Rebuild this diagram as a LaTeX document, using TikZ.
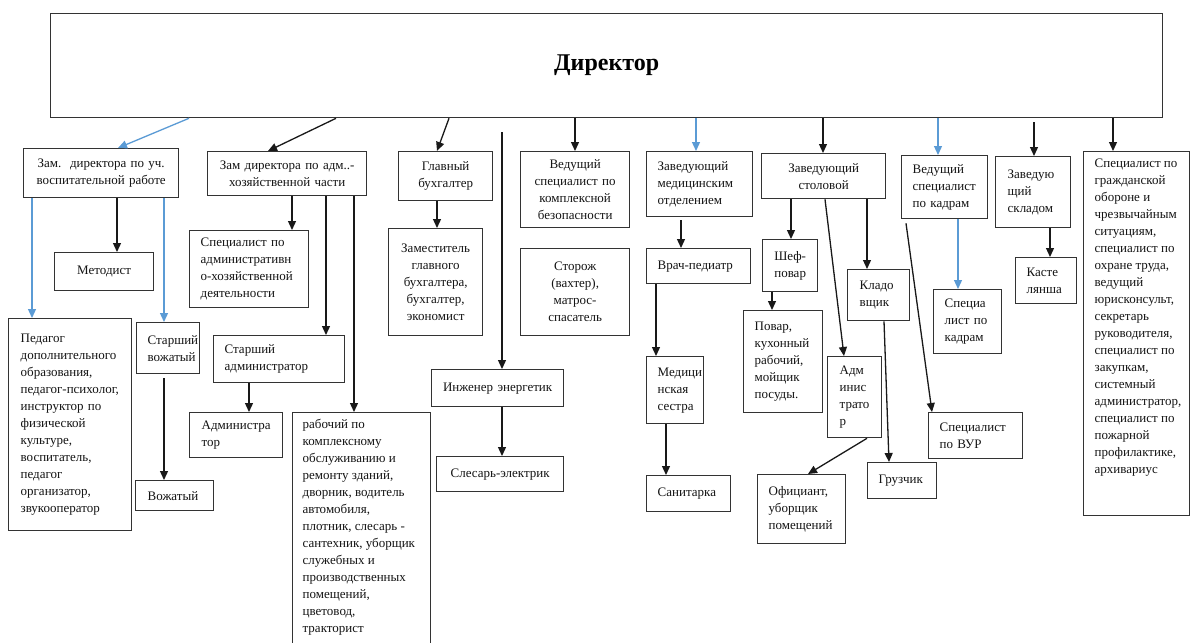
\documentclass[tikz,border=0pt]{standalone}
\usepackage{fontspec}
\setmainfont{Liberation Serif}
\usetikzlibrary{arrows.meta,calc}
\definecolor{lblue}{HTML}{5B9BD5}
\definecolor{ink}{HTML}{141414}
\newcommand{\bxfont}{\fontsize{13}{17}\selectfont}
\hyphenpenalty=10000
\exhyphenpenalty=10000
\begin{document}
\begin{tikzpicture}[x=1pt,y=-1pt,
  bx/.style={draw=black!80, line width=1.3pt, rectangle, anchor=north west, inner ysep=0pt, text=ink, font=\bxfont},
  cb/.style={align=center, inner xsep=2pt},
  lb/.style={align=left},
  arr/.style={draw=black!90, line width=1.3pt, -{Triangle[length=9pt,width=8pt]}},
  barr/.style={draw=lblue, line width=1.3pt, -{Triangle[length=9pt,width=8pt]}}
]
\fill[white] (0,0) rectangle (1190,642);
\useasboundingbox (0,0) rectangle (1190,642);

% top
\node[bx, minimum width=1112pt, minimum height=104pt, font=\fontsize{24}{28}\selectfont\bfseries, text=black] (dir) at (50,13) {Директор};

% left branch
\node[bx, cb, minimum width=155pt, minimum height=49pt, text width=151pt] (zu) at (23,148) {Зам.~~директора по уч.\\воспитательной работе};
\node[bx, cb, minimum width=159pt, minimum height=44pt, text width=155pt] (za) at (207,151) {Зам директора по адм..-\\хозяйственной части};
\node[bx, cb, minimum width=99pt, minimum height=38pt, text width=95pt] (met) at (54,252) {Методист};
\node[bx, lb, minimum width=119pt, minimum height=77pt, inner xsep=11pt, text width=97pt] (sah) at (189,230) {Специалист~по\\административн\\о-хозяйственной\\деятельности};
\node[bx, lb, minimum width=123pt, minimum height=212pt, inner xsep=12pt, text width=99pt] (ped) at (8,318) {Педагог\\дополнительного\\образования,\\педагог-психолог,\\инструктор~по\\физической\\культуре,\\воспитатель,\\педагог\\организатор,\\звукооператор};
\node[bx, lb, minimum width=63pt, minimum height=51pt, inner xsep=11pt, text width=41pt] (sv) at (136,322) {Старший\\вожатый};
\node[bx, lb, minimum width=78pt, minimum height=30pt, inner xsep=12pt, text width=54pt] (voz) at (135,480) {Вожатый};
\node[bx, lb, minimum width=131pt, minimum height=47pt, inner xsep=11pt, text width=109pt] (sa) at (213,335) {Старший\\администратор};
\node[bx, lb, minimum width=93pt, minimum height=45pt, inner xsep=12pt, text width=69pt] (adm) at (189,412) {Администра\\тор};
\node[bx, minimum width=138pt, minimum height=240pt, inner xsep=10pt, inner ysep=7pt] (rab) at (292,412) {\parbox[c][226pt][t]{118pt}{\raggedright\bxfont рабочий~по\\комплексному\\обслуживанию~и\\ремонту~зданий,\\дворник,~водитель\\автомобиля,\\плотник,~слесарь~-\\сантехник,~уборщик\\служебных~и\\производственных\\помещений,\\цветовод,\\тракторист}};

% middle
\node[bx, cb, minimum width=94pt, minimum height=49pt, text width=90pt] (gb) at (398,151) {Главный\\бухгалтер};
\node[bx, cb, minimum width=94pt, minimum height=107pt, text width=90pt] (zgb) at (388,228) {Заместитель\\главного\\бухгалтера,\\бухгалтер,\\экономист};
\node[bx, cb, minimum width=109pt, minimum height=76pt, text width=105pt] (vsk) at (520,151) {Ведущий\\специалист по\\комплексной\\безопасности};
\node[bx, cb, minimum width=109pt, minimum height=87pt, text width=105pt] (stor) at (520,248) {Сторож\\(вахтер),\\матрос-\\спасатель};
\node[bx, cb, minimum width=132pt, minimum height=37pt, text width=128pt] (ie) at (431,369) {Инженер энергетик};
\node[bx, cb, minimum width=127pt, minimum height=35pt, text width=123pt] (se) at (436,456) {Слесарь-электрик};

\node[bx, lb, minimum width=106pt, minimum height=65pt, inner xsep=11pt, text width=84pt] (zmo) at (646,151) {Заведующий\\медицинским\\отделением};
\node[bx, lb, minimum width=104pt, minimum height=35pt, inner xsep=11pt, text width=82pt] (vp) at (646,248) {Врач-педиатр};
\node[bx, lb, minimum width=57pt, minimum height=67pt, inner xsep=11pt, text width=35pt] (ms) at (646,356) {Медици\\нская\\сестра};
\node[bx, lb, minimum width=84pt, minimum height=36pt, inner xsep=11pt, text width=62pt] (san) at (646,475) {Санитарка};

% canteen
\node[bx, cb, minimum width=124pt, minimum height=45pt, text width=120pt] (zs) at (761,153) {Заведующий\\столовой};
\node[bx, cb, minimum width=55pt, minimum height=52pt, text width=51pt] (shef) at (762,239) {Шеф-\\повар};
\node[bx, lb, minimum width=79pt, minimum height=102pt, inner xsep=11pt, text width=57pt] (pov) at (743,310) {Повар,\\кухонный\\рабочий,\\мойщик\\посуды.};
\node[bx, lb, minimum width=62pt, minimum height=51pt, inner xsep=12pt, text width=38pt] (klad) at (847,269) {Кладо\\вщик};
\node[bx, lb, minimum width=54pt, minimum height=81pt, inner xsep=12pt, text width=30pt] (adms) at (827,356) {Адм\\инис\\трато\\р};
\node[bx, lb, minimum width=88pt, minimum height=69pt, inner xsep=11pt, text width=66pt] (ofic) at (757,474) {Официант,\\уборщик\\помещений};
\node[bx, lb, minimum width=69pt, minimum height=36pt, inner xsep=11pt, text width=47pt] (gruz) at (867,462) {Грузчик};

% personnel / store
\node[bx, lb, minimum width=86pt, minimum height=63pt, inner xsep=11pt, text width=64pt] (vkad) at (901,155) {Ведущий\\специалист\\по~кадрам};
\node[bx, lb, minimum width=68pt, minimum height=64pt, inner xsep=11pt, text width=46pt] (spk) at (933,289) {Специа\\лист~по\\кадрам};
\node[bx, lb, minimum width=94pt, minimum height=46pt, inner xsep=11pt, text width=72pt] (vur) at (928,412) {Специалист\\по~ВУР};
\node[bx, lb, minimum width=75pt, minimum height=71pt, inner xsep=12pt, text width=51pt] (zsk) at (995,156) {Заведую\\щий\\складом};
\node[bx, lb, minimum width=61pt, minimum height=46pt, inner xsep=11pt, text width=39pt] (kast) at (1015,257) {Касте\\лянша};
\node[bx, minimum width=106pt, minimum height=364pt, inner xsep=11pt, inner ysep=7pt] (big) at (1083,151) {\parbox[c][350pt][t]{84pt}{\raggedright\bxfont Специалист~по\\гражданской\\обороне~и\\чрезвычайным\\ситуациям,\\специалист~по\\охране~труда,\\ведущий\\юрисконсульт,\\секретарь\\руководителя,\\специалист~по\\закупкам,\\системный\\администратор,\\специалист~по\\пожарной\\профилактике,\\архивариус}};

% free ends
\coordinate (c5) at (1034,122);
\coordinate (c14) at (502,132);

% blue connectors
\draw[barr] ($(dir.south west)+(139,0)$) -- ($(zu.north west)+(95,0)$);
\draw[barr] ($(zu.south west)+(9,0)$) -- ($(ped.north west)+(24,0)$);
\draw[barr] ($(zu.south west)+(141,0)$) -- ($(sv.north west)+(28,0)$);
\draw[barr] ($(dir.south west)+(646,0)$) -- ($(zmo.north west)+(50,0)$);
\draw[barr] ($(dir.south west)+(888,0)$) -- ($(vkad.north west)+(37,0)$);
\draw[barr] ($(vkad.south west)+(57,0)$) -- ($(spk.north west)+(25,0)$);

% black connectors
\draw[arr] ($(dir.south west)+(286,0)$) -- ($(za.north west)+(61,0)$);
\draw[arr] ($(dir.south west)+(399,0)$) -- ($(gb.north west)+(39,0)$);
\draw[arr] ($(dir.south west)+(525,0)$) -- ($(vsk.north west)+(55,0)$);
\draw[arr] ($(dir.south west)+(773,0)$) -- ($(zs.north west)+(62,0)$);
\draw[arr] (c5) -- ($(zsk.north west)+(39,0)$);
\draw[arr] ($(dir.south west)+(1063,0)$) -- ($(big.north west)+(30,0)$);
\draw[arr] ($(zu.south west)+(94,0)$) -- ($(met.north west)+(63,0)$);
\draw[arr] ($(za.south west)+(85,0)$) -- ($(sah.north west)+(103,0)$);
\draw[arr] ($(za.south west)+(119,0)$) -- ($(sa.north west)+(113,0)$);
\draw[arr] ($(za.south west)+(147,0)$) -- ($(rab.north west)+(62,0)$);
\draw[arr] ($(sv.south west)+(28,4)$) -- ($(voz.north west)+(29,0)$);
\draw[arr] ($(sa.south west)+(36,0)$) -- ($(adm.north west)+(60,0)$);
\draw[arr] ($(gb.south west)+(39,0)$) -- ($(zgb.north west)+(49,0)$);
\draw[arr] (c14) -- ($(ie.north west)+(71,0)$);
\draw[arr] ($(ie.south west)+(71,0)$) -- ($(se.north west)+(66,0)$);
\draw[arr] ($(zmo.south west)+(35,3)$) -- ($(vp.north west)+(35,0)$);
\draw[arr] ($(vp.south west)+(10,0)$) -- ($(ms.north west)+(10,0)$);
\draw[arr] ($(ms.south west)+(20,0)$) -- ($(san.north west)+(20,0)$);
\draw[arr] ($(zs.south west)+(30,0)$) -- ($(shef.north west)+(29,0)$);
\draw[arr] ($(zs.south west)+(64,0)$) -- ($(adms.north west)+(17,0)$);
\draw[arr] ($(zs.south west)+(106,0)$) -- ($(klad.north west)+(20,0)$);
\draw[arr] ($(shef.south west)+(10,0)$) -- ($(pov.north west)+(29,0)$);
\draw[arr] ($(klad.south west)+(37,0)$) -- ($(gruz.north west)+(22,0)$);
\draw[arr] ($(adms.south west)+(40,0)$) -- ($(ofic.north west)+(51,0)$);
\draw[arr] ($(vkad.south west)+(5,4)$) -- ($(vur.north west)+(4,0)$);
\draw[arr] ($(zsk.south west)+(55,0)$) -- ($(kast.north west)+(35,0)$);
\end{tikzpicture}
\end{document}
